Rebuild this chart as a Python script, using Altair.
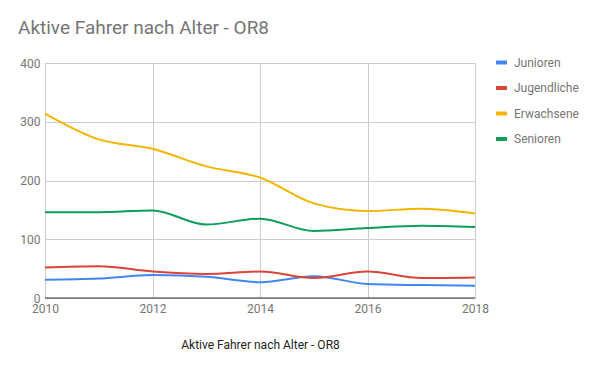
import altair as alt
import pandas as pd

years = [2010, 2011, 2012, 2013, 2014, 2015, 2016, 2017, 2018]
series_names = ["Junioren", "Jugendliche", "Erwachsene", "Senioren"]
junioren = [31, 33, 39, 36, 27, 37, 24, 22, 21]
jugendliche = [52, 54, 45, 41, 45, 34, 45, 34, 35]
erwachsene = [314, 270, 254, 224, 205, 161, 148, 152, 144]
senioren = [146, 146, 149, 125, 135, 114, 119, 123, 121]
colors = ["#4285F4", "#DB4437", "#F4B400", "#0F9D58"]
x_ticks = [2010, 2012, 2014, 2016, 2018]
y_ticks = [0, 100, 200, 300, 400]

rows = []
for name, vals in zip(series_names, [junioren, jugendliche, erwachsene, senioren]):
    for y, v in zip(years, vals):
        rows.append({"Jahr": y, "Serie": name, "Wert": v})
df = pd.DataFrame(rows)

font = "Roboto"

chart = alt.Chart(df).mark_line(interpolate="monotone", strokeWidth=2).encode(
    x=alt.X("Jahr:Q",
            scale=alt.Scale(domain=[2010, 2018], nice=False, zero=False),
            axis=alt.Axis(values=x_ticks, format="d", title="Aktive Fahrer nach Alter - OR8",
                          tickSize=0, labelPadding=5, domain=False,
                          labelColor="#757575", labelFontSize=12, labelFont=font,
                          titleColor="#222222", titleFontSize=12, titleFont=font,
                          titleFontWeight="normal", titlePadding=25,
                          gridColor="#cccccc", labelFlush=False)),
    y=alt.Y("Wert:Q",
            scale=alt.Scale(domain=[0, 400], nice=False),
            axis=alt.Axis(values=y_ticks, title=None, tickSize=0, labelPadding=5, domain=False,
                          labelColor="#757575", labelFontSize=12, labelFont=font,
                          gridColor="#cccccc")),
    color=alt.Color("Serie:N",
                    scale=alt.Scale(domain=series_names, range=colors),
                    legend=alt.Legend(title=None, orient="none", legendX=449, legendY=-8,
                                      symbolType="stroke", symbolStrokeWidth=4, symbolSize=120,
                                      labelFont=font, labelFontSize=12, labelColor="#757575",
                                      rowPadding=8.5, labelOffset=5, padding=0)),
)

baseline = alt.Chart(pd.DataFrame({"y": [0]})).mark_rule(color="#333333", strokeWidth=1.2).encode(
    y=alt.Y("y:Q")
)

final = alt.layer(chart, baseline).properties(
    width=430, height=235,
    autosize=alt.AutoSizeParams(type="none"),
    padding={"left": 37, "top": 55, "right": 110, "bottom": 57},
    title=alt.Title("Aktive Fahrer nach Alter - OR8", anchor="start", frame="group", dx=-27, offset=17,
                    font=font, fontSize=19, fontWeight="normal", color="#757575"),
).configure_view(stroke="#cccccc", strokeWidth=1).configure(background="white")

final.save("out.html", embed_options={"renderer": "svg", "actions": False})
